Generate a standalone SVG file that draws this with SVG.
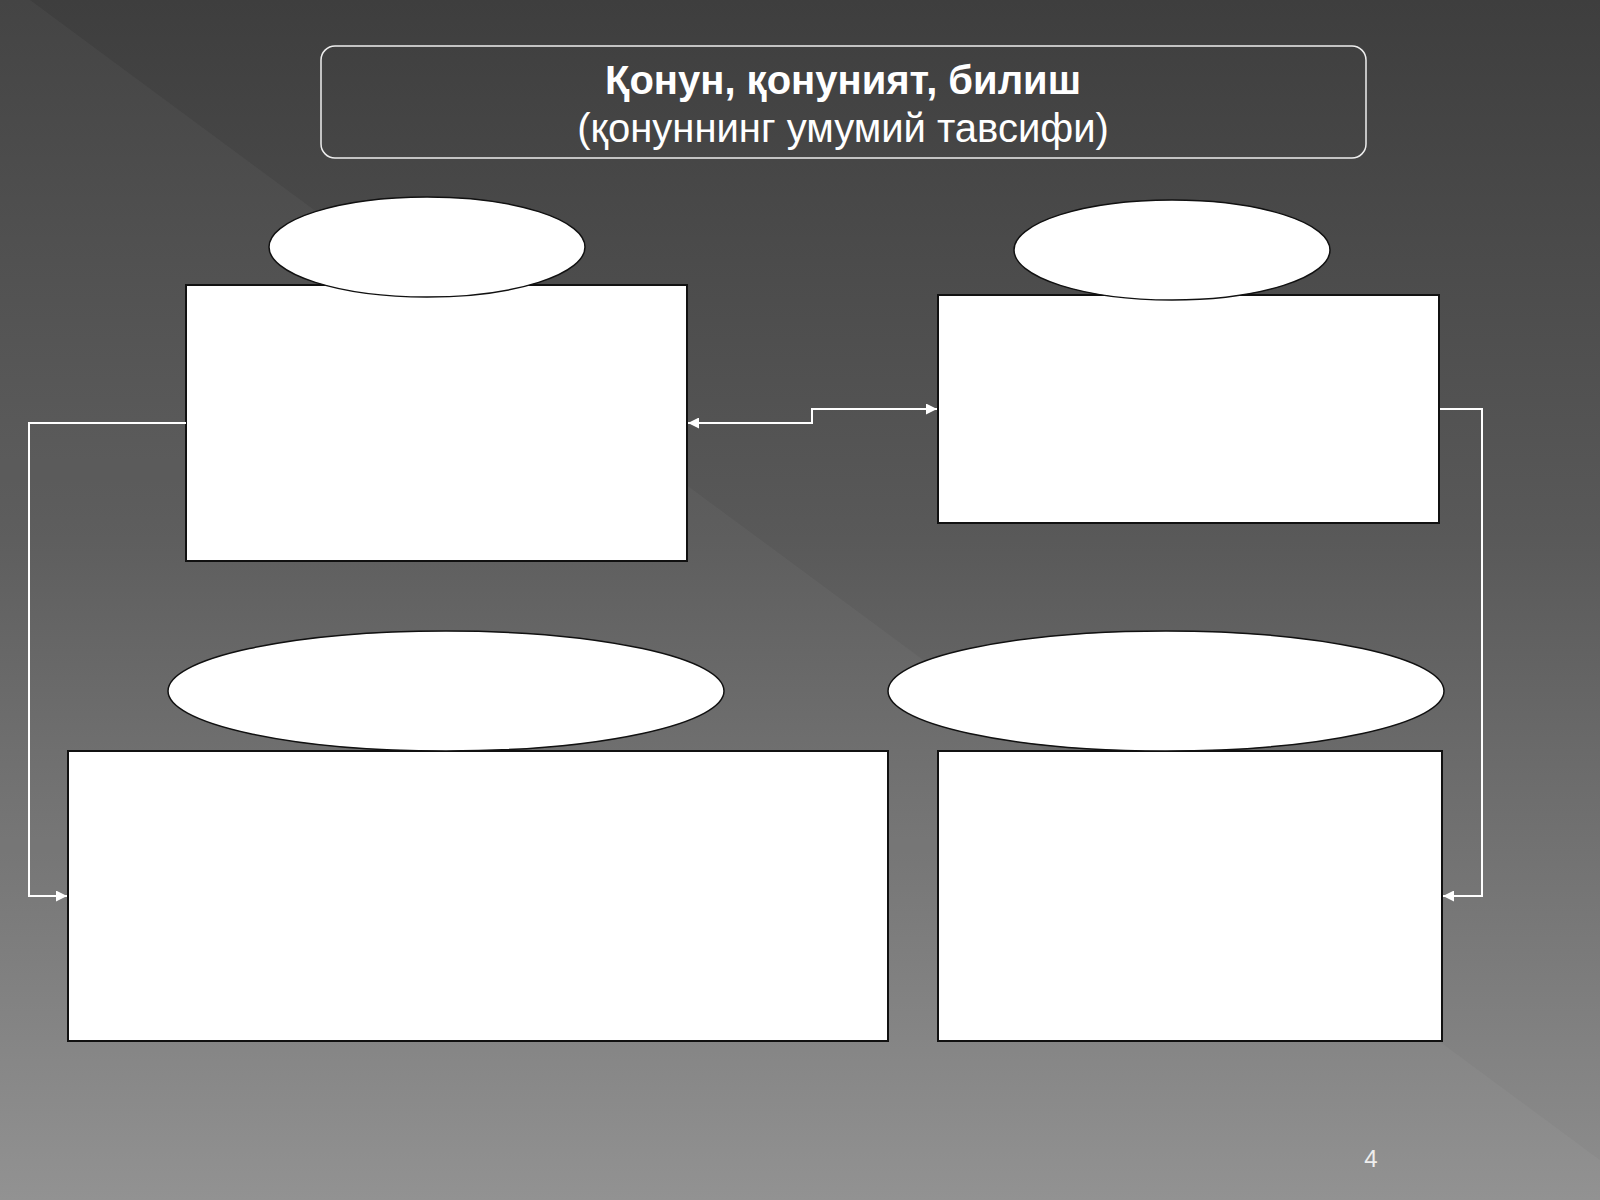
<svg xmlns="http://www.w3.org/2000/svg" width="1600" height="1200" viewBox="0 0 1600 1200">
<defs>
<linearGradient id="bg" x1="0" y1="0" x2="0" y2="1">
<stop offset="0" stop-color="#3e3e3e"/>
<stop offset="0.45" stop-color="#595959"/>
<stop offset="1" stop-color="#8e8e8e"/>
</linearGradient>
<marker id="ah" viewBox="0 0 10 10" refX="10" refY="5" markerWidth="13" markerHeight="11" markerUnits="userSpaceOnUse" orient="auto-start-reverse">
<path d="M0,0 L10,5 L0,10 z" fill="#ffffff"/>
</marker>
<style>
.box{fill:#ffffff;stroke:#111111;stroke-width:2}
.ell{fill:#ffffff;stroke:#111111;stroke-width:1.5}
.con{fill:none;stroke:#ffffff;stroke-width:2}
.t1{font-family:"Liberation Sans",Arial,sans-serif;font-size:40px;font-weight:bold;fill:#ffffff;text-anchor:middle}
.t2{font-family:"Liberation Sans",Arial,sans-serif;font-size:40px;fill:#ffffff;text-anchor:middle}
</style>
</defs>
<rect x="0" y="0" width="1600" height="1200" fill="url(#bg)"/>
<polygon points="0,0 30,0 1600,1160 1600,1200 0,1200" fill="#ffffff" fill-opacity="0.035"/>

<g id="title">
<rect x="321" y="46" width="1045" height="112" rx="14" fill="none" stroke="#eeeeee" stroke-width="1.5"/>
<text class="t1" x="843" y="94">Қонун, қонуният, билиш</text>
<text class="t2" x="843" y="142">(қонуннинг умумий тавсифи)</text>
</g>

<g id="node-tl">
<rect class="box" x="186" y="285" width="501" height="276"/>
<ellipse class="ell" cx="427" cy="247" rx="158" ry="50"/>
</g>
<g id="node-tr">
<rect class="box" x="938" y="295" width="501" height="228"/>
<ellipse class="ell" cx="1172" cy="250" rx="158" ry="50"/>
</g>
<g id="node-bl">
<rect class="box" x="68" y="751" width="820" height="290"/>
<ellipse class="ell" cx="446" cy="691" rx="278" ry="60"/>
</g>
<g id="node-br">
<rect class="box" x="938" y="751" width="504" height="290"/>
<ellipse class="ell" cx="1166" cy="691" rx="278" ry="60"/>
</g>

<g id="connectors">
<polyline class="con" points="688,423 812,423 812,409 937,409" marker-start="url(#ah)" marker-end="url(#ah)"/>
<polyline class="con" points="186,423 29,423 29,896 67,896" marker-end="url(#ah)"/>
<polyline class="con" points="1440,409 1482,409 1482,896 1443,896" marker-end="url(#ah)"/>
</g>

<text x="1371" y="1167" font-family="Liberation Sans,Arial,sans-serif" font-size="24" fill="#eeeeee" text-anchor="middle">4</text>
</svg>
